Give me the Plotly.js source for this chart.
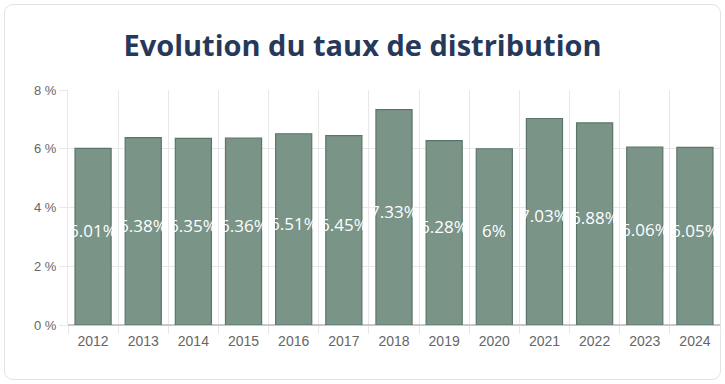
<!DOCTYPE html>
<html><head><meta charset="utf-8">
<script src="https://cdn.plot.ly/plotly-3.0.1.min.js"></script>
<style>
html,body{margin:0;padding:0;background:#fff;}
#card{position:absolute;left:4px;top:4px;width:717px;height:376px;border:1px solid #e3e3e6;border-radius:9px;box-sizing:border-box;}
#chart{position:absolute;left:0;top:0;width:725px;height:384px;}
</style></head>
<body>
<div id="card"></div>
<div id="chart"></div>
<script>
const years = ['2012','2013','2014','2015','2016','2017','2018','2019','2020','2021','2022','2023','2024'];
const rates = [6.01, 6.38, 6.35, 6.36, 6.51, 6.45, 7.33, 6.28, 6, 7.03, 6.88, 6.06, 6.05];
const labels = rates.map(v => v + '%');
const yTicks = [0, 2, 4, 6, 8];
const yTickText = ['0 %', '2 %', '4 %', '6 %', '8 %'];

const bars = {
  type: 'bar', x: years, y: rates,
  marker: {color: '#7a9488', line: {color: '#5c7569', width: 1.2}},
  hoverinfo: 'skip'
};
const annotations = years.map((yr, i) => ({
  x: i, y: rates[i] / 2, xref: 'x', yref: 'y', text: labels[i], showarrow: false,
  yshift: 6, xanchor: 'center', yanchor: 'middle',
  font: {family: 'Open Sans, sans-serif', size: 17, color: '#ffffff'}
}));
const layout = {
  width: 725, height: 384,
  paper_bgcolor: 'rgba(0,0,0,0)', plot_bgcolor: 'rgba(0,0,0,0)',
  margin: {l: 68, r: 5, t: 90, b: 59},
  showlegend: false, bargap: 0.28,
  annotations: annotations,
  title: {text: '<b>Evolution du taux de distribution</b>', x: 0.5, xref: 'container', xanchor: 'center', y: 0.88, yref: 'container', yanchor: 'middle',
    font: {family: 'Open Sans, sans-serif', size: 29, color: '#26395a'}},
  xaxis: {type: 'category', range: [-0.5, 12.5], tickson: 'boundaries', showgrid: true, gridcolor: '#e8e8e8', gridwidth: 1,
    ticks: 'outside', ticklen: 8, tickcolor: '#e8e8e8', showline: false, zeroline: false, ticklabelstandoff: 6,
    tickfont: {family: 'Liberation Sans, Arial, sans-serif', size: 14, color: '#666666'}},
  yaxis: {range: [0, 8], tickvals: yTicks, ticktext: yTickText, showgrid: true, gridcolor: '#e8e8e8',
    ticks: 'outside', ticklen: 8, tickcolor: '#e8e8e8', zeroline: true, zerolinecolor: '#c8c8c8', zerolinewidth: 1.5,
    showline: true, linecolor: '#e8e8e8',
    tickfont: {family: 'Liberation Sans, Arial, sans-serif', size: 13, color: '#666666'}}
};
Plotly.newPlot('chart', [bars], layout, {displayModeBar: false, staticPlot: true});
</script>
</body></html>
